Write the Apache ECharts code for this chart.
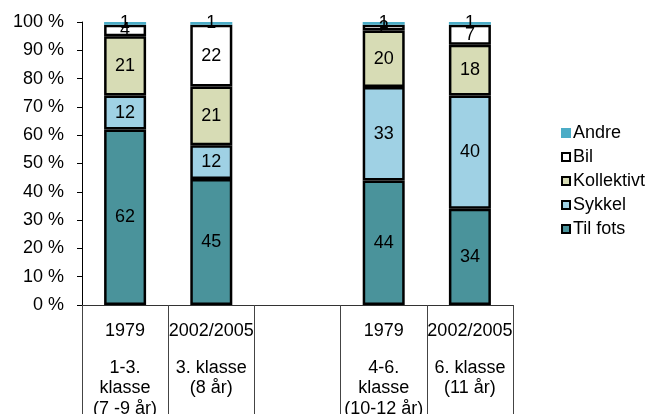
<!DOCTYPE html>
<html>
<head>
<meta charset="utf-8">
<title>Transportmåte til skolen</title>
<script src="https://cdn.jsdelivr.net/npm/echarts@6/dist/echarts.min.js"></script>
<style>
  html, body { margin: 0; padding: 0; background: #fff; }
  #chart { width: 649px; height: 414px; }
</style>
</head>
<body>
<div id="chart"></div>
<script>
// Tick labels for the category axis (the middle slot is an empty spacer)
var periods = ['1979', '2002/2005', '', '1979', '2002/2005'];
var groups = [
  ['1-3.', 'klasse', '(7 -9 år)'],
  ['3. klasse', '(8 år)'],
  [],
  ['4-6.', 'klasse', '(10-12 år)'],
  ['6. klasse', '(11 år)']
];

// Share of pupils (%) by mode of travel
var tilFots    = [62, 45, null, 44, 34];
var sykkel     = [12, 12, null, 33, 40];
var kollektivt = [21, 21, null, 20, 18];
var bil        = [4, 22, null, 2, 7];
var andre      = [1, 1, null, 1, 1];

var yTicks = [0, 10, 20, 30, 40, 50, 60, 70, 80, 90, 100];

var seriesDefs = [
  { name: 'Til fots',   values: tilFots,    color: '#4A939B' },
  { name: 'Sykkel',     values: sykkel,     color: '#9FD1E4' },
  { name: 'Kollektivt', values: kollektivt, color: '#D7DCB5' },
  { name: 'Bil',        values: bil,        color: '#FFFFFF' },
  { name: 'Andre',      values: andre,      color: '#4BACC6' }
];

var FONT = 'Liberation Sans, Arial, sans-serif';

// Each column is drawn as a 100 % stack, so normalise by the column total
var totals = periods.map(function (_, i) {
  var s = 0;
  seriesDefs.forEach(function (d) { if (d.values[i] != null) s += d.values[i]; });
  return s;
});

var categories = periods.map(function (p, i) { return i + '|' + p; });

var series = seriesDefs.map(function (d) {
  var isThin = d.name === 'Andre';
  return {
    name: d.name,
    type: 'bar',
    stack: 'total',
    barWidth: 42,
    data: d.values.map(function (v, i) {
      return v == null ? null : v / totals[i] * 100;
    }),
    itemStyle: {
      color: d.color,
      borderColor: isThin ? d.color : '#000',
      borderWidth: isThin ? 0 : 2.5
    },
    label: {
      show: true,
      position: 'inside',
      color: '#000',
      fontFamily: FONT,
      fontSize: 18,
      formatter: function (p) {
        var raw = d.values[p.dataIndex];
        return raw == null ? '' : String(raw);
      }
    },
    emphasis: { disabled: true }
  };
});

var legendOrder = ['Andre', 'Bil', 'Kollektivt', 'Sykkel', 'Til fots'];

var option = {
  animation: false,
  backgroundColor: '#fff',
  textStyle: { fontFamily: FONT },
  grid: { left: 82, right: 136, top: 22, bottom: 109, outerBoundsMode: 'none' },
  legend: {
    orient: 'vertical',
    left: 561,
    top: 124,
    padding: 0,
    itemGap: 6,
    itemWidth: 8,
    itemHeight: 8,
    icon: 'rect',
    selectedMode: false,
    textStyle: { fontFamily: FONT, fontSize: 18, color: '#000', padding: [0, 0, 0, -2] },
    data: legendOrder.map(function (n) {
      var def = seriesDefs.filter(function (d) { return d.name === n; })[0];
      return {
        name: n,
        itemStyle: {
          color: def.color,
          borderColor: n === 'Andre' ? def.color : '#000',
          borderWidth: 2
        }
      };
    })
  },
  xAxis: {
    type: 'category',
    data: categories,
    axisLine: { show: true, lineStyle: { color: '#333', width: 1 } },
    axisTick: { show: true, interval: 0, length: 110, lineStyle: { color: '#444', width: 1 } },
    axisLabel: {
      interval: 0,
      margin: 16,
      color: '#000',
      fontFamily: FONT,
      fontSize: 18,
      formatter: function (value, index) {
        var parts = [];
        if (periods[index]) parts.push('{p|' + periods[index] + '}');
        if (groups[index].length) {
          parts.push('{g| }');
          groups[index].forEach(function (t) { parts.push('{q|' + t + '}'); });
        }
        return parts.join('\n');
      },
      rich: {
        p: { fontSize: 18, fontFamily: FONT, color: '#000', lineHeight: 20 },
        g: { fontSize: 10, lineHeight: 16.5 },
        q: { fontSize: 18, fontFamily: FONT, color: '#000', lineHeight: 20.5 }
      }
    }
  },
  yAxis: {
    type: 'value',
    min: yTicks[0],
    max: yTicks[yTicks.length - 1],
    interval: yTicks[1] - yTicks[0],
    axisLine: { show: true, lineStyle: { color: '#000', width: 1 } },
    axisTick: { show: true, length: 5, lineStyle: { color: '#000' } },
    splitLine: { show: false },
    axisLabel: {
      margin: 18,
      color: '#000',
      fontFamily: FONT,
      fontSize: 18,
      formatter: function (v) { return v + ' %'; }
    }
  },
  series: series
};

var chart = echarts.init(document.getElementById('chart'), null, { renderer: 'canvas' });
chart.setOption(option);
</script>
</body>
</html>
